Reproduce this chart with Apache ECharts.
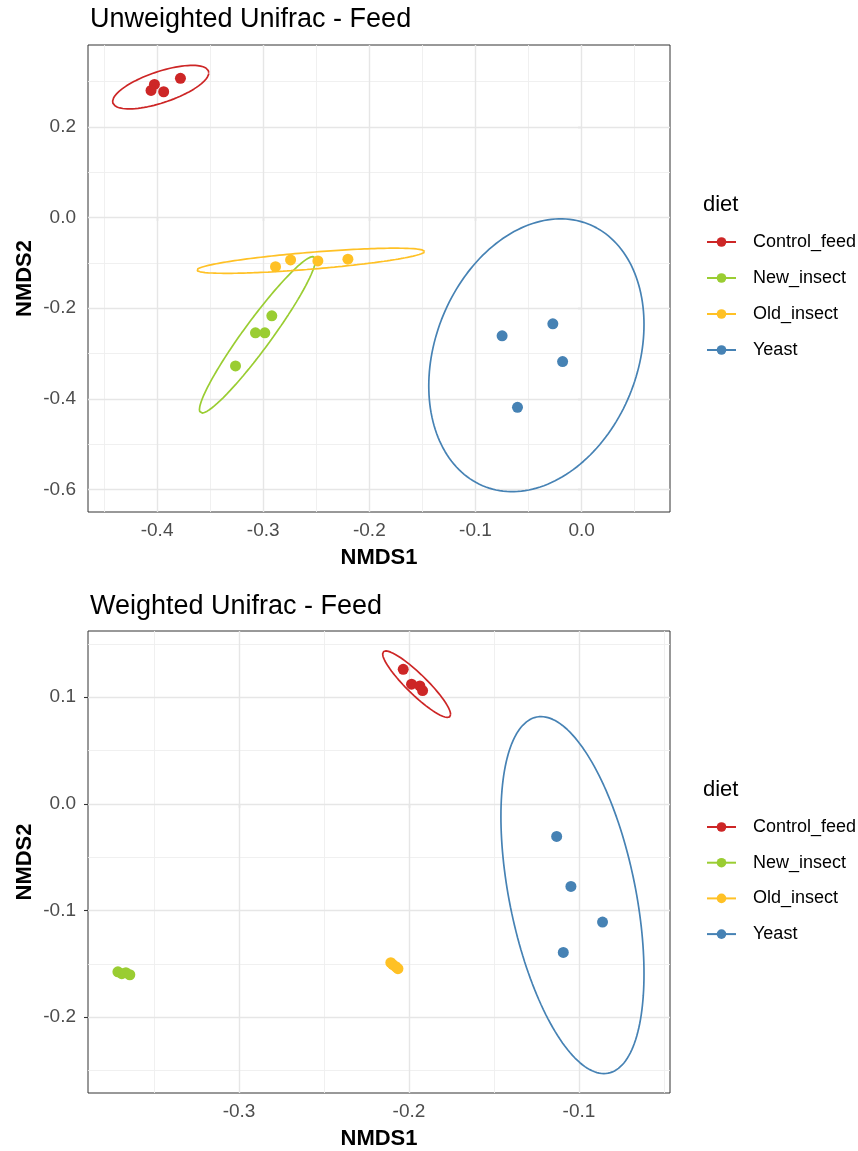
<!DOCTYPE html>
<html><head><meta charset="utf-8">
<script src="https://cdn.jsdelivr.net/npm/echarts@6/dist/echarts.min.js"></script>
<style>html,body{margin:0;padding:0;background:#fff}#c{width:858px;height:1151px}</style>
</head><body><div id="c"></div>
<script>
// ---------- data ----------
const groups = ['Control_feed', 'New_insect', 'Old_insect', 'Yeast'];
const groupColors = ['#CD2626', '#9ACD32', '#FFC125', '#4682B4'];

// Panel 1: Unweighted Unifrac
const unwControlX = [-0.4025, -0.4057, -0.3938, -0.3780];
const unwControlY = [0.2936, 0.2803, 0.2774, 0.3069];
const unwNewX = [-0.2919, -0.3073, -0.2985, -0.3261];
const unwNewY = [-0.2168, -0.2544, -0.2544, -0.3274];
const unwOldX = [-0.2884, -0.2742, -0.2485, -0.2202];
const unwOldY = [-0.1084, -0.0936, -0.0958, -0.0920];
const unwYeastX = [-0.0749, -0.0271, -0.0179, -0.0604];
const unwYeastY = [-0.2611, -0.2345, -0.3177, -0.4188];
// ellipse: [centerX, centerY, halfRangeX, halfRangeY, correlation]
const unwEllipses = [
  [-0.3966, 0.2876, 0.0453, 0.0480, 0.66],
  [-0.3054, -0.2588, 0.0547, 0.1726, 0.955],
  [-0.2552, -0.0954, 0.1074, 0.0277, 0.74],
  [-0.0426, -0.3038, 0.1014, 0.3009, 0.225]
];
const unwXTicks = [-0.4, -0.3, -0.2, -0.1, 0.0];
const unwXMinor = [-0.45, -0.35, -0.25, -0.15, -0.05, 0.05];
const unwYTicks = [-0.6, -0.4, -0.2, 0.0, 0.2];
const unwYMinor = [-0.5, -0.3, -0.1, 0.1, 0.3];
const unwXRange = [-0.4651, 0.0833];
const unwYRange = [-0.6496, 0.3805];

// Panel 2: Weighted Unifrac
const wControlX = [-0.2034, -0.1985, -0.1936, -0.1920];
const wControlY = [0.1262, 0.1122, 0.1106, 0.1062];
const wNewX = [-0.3713, -0.3690, -0.3666, -0.3643];
const wNewY = [-0.1575, -0.1593, -0.1584, -0.1603];
const wOldX = [-0.2107, -0.2095, -0.2077, -0.2065];
const wOldY = [-0.1490, -0.1509, -0.1528, -0.1546];
const wYeastX = [-0.1131, -0.1047, -0.0861, -0.1092];
const wYeastY = [-0.0306, -0.0775, -0.1109, -0.1394];
const wEllipses = [
  [-0.1955, 0.1122, 0.0200, 0.0312, -0.91],
  null,
  null,
  [-0.1038, -0.0856, 0.0421, 0.1674, -0.44]
];
const wXTicks = [-0.3, -0.2, -0.1];
const wXMinor = [-0.35, -0.25, -0.15, -0.05];
const wYTicks = [-0.2, -0.1, 0.0, 0.1];
const wYMinor = [-0.25, -0.15, -0.05, 0.05, 0.15];
const wXRange = [-0.3889, -0.0464];
const wYRange = [-0.2712, 0.1621];

// ---------- build ----------
const FONT = '"Liberation Sans", Arial, Helvetica, sans-serif';
const panels = [
  { title: 'Unweighted Unifrac - Feed', xs: [unwControlX, unwNewX, unwOldX, unwYeastX], ys: [unwControlY, unwNewY, unwOldY, unwYeastY],
    ell: unwEllipses, xt: unwXTicks, xm: unwXMinor, yt: unwYTicks, ym: unwYMinor, xr: unwXRange, yr: unwYRange,
    grid: { left: 88, top: 45, width: 582, height: 467 }, titleTop: 1, legendTitleTop: 189, legendTop: 228, legendGap: 18 },
  { title: 'Weighted Unifrac - Feed', xs: [wControlX, wNewX, wOldX, wYeastX], ys: [wControlY, wNewY, wOldY, wYeastY],
    ell: wEllipses, xt: wXTicks, xm: wXMinor, yt: wYTicks, ym: wYMinor, xr: wXRange, yr: wYRange,
    grid: { left: 88, top: 631, width: 582, height: 462 }, titleTop: 588, legendTitleTop: 774, legendTop: 813, legendGap: 17.7 }
];

function ellipsePoints(e) {
  if (!e) return [];
  const [cx, cy, rx, ry, rho] = e;
  const pts = [];
  const s = Math.sqrt(1 - rho * rho);
  for (let k = 0; k <= 180; k++) {
    const t = k / 180 * 2 * Math.PI;
    pts.push([cx + rx * Math.cos(t), cy + ry * (rho * Math.cos(t) + s * Math.sin(t))]);
  }
  return pts;
}
const fmt = v => (Math.round(v * 10) / 10).toFixed(1);

const grids = [], xAxes = [], yAxes = [], titles = [], legends = [];
const lineSeries = [], pointSeries = [], gridSeries = [];
panels.forEach((p, pi) => {
  grids.push(Object.assign({ show: true, borderColor: '#333333', borderWidth: 1, backgroundColor: 'transparent', containLabel: false }, p.grid));
  xAxes.push({
    type: 'value', gridIndex: pi, min: p.xr[0], max: p.xr[1],
    axisLine: { show: false },
    axisTick: { show: true, length: 4, customValues: p.xt, lineStyle: { color: '#333333', width: 1.1 } },
    axisLabel: { customValues: p.xt, formatter: fmt, fontSize: 19, color: '#4D4D4D', margin: 9, fontFamily: FONT },
    splitLine: { show: false },
    name: 'NMDS1', nameLocation: 'middle', nameGap: 35, nameMoveOverlap: false,
    nameTextStyle: { fontSize: 22, fontWeight: 'bold', color: '#000', fontFamily: FONT }
  });
  yAxes.push({
    type: 'value', gridIndex: pi, min: p.yr[0], max: p.yr[1],
    axisLine: { show: false },
    axisTick: { show: true, length: 4, customValues: p.yt, lineStyle: { color: '#333333', width: 1.1 } },
    axisLabel: { customValues: p.yt, formatter: fmt, fontSize: 19, color: '#4D4D4D', margin: 12, fontFamily: FONT },
    splitLine: { show: false },
    name: 'NMDS2', nameLocation: 'middle', nameGap: 52, nameMoveOverlap: false,
    nameTextStyle: { fontSize: 22, fontWeight: 'bold', color: '#000', fontFamily: FONT }
  });
  // grid lines through the axes' scales
  const ml = [];
  p.xm.forEach(v => ml.push({ xAxis: v, lineStyle: { color: '#EEEEEE', width: 0.9, type: 'solid' } }));
  p.ym.forEach(v => ml.push({ yAxis: v, lineStyle: { color: '#EEEEEE', width: 0.9, type: 'solid' } }));
  p.xt.forEach(v => ml.push({ xAxis: v, lineStyle: { color: '#E6E6E6', width: 1.4, type: 'solid' } }));
  p.yt.forEach(v => ml.push({ yAxis: v, lineStyle: { color: '#E6E6E6', width: 1.4, type: 'solid' } }));
  gridSeries.push({
    name: 'grid' + pi, type: 'scatter', data: [], xAxisIndex: pi, yAxisIndex: pi, silent: true, z: 1,
    markLine: { silent: true, z: 1, symbol: ['none', 'none'], label: { show: false }, emphasis: { disabled: true }, animation: false, data: ml }
  });
  groups.forEach((g, gi) => {
    lineSeries.push({
      name: g, type: 'line', xAxisIndex: pi, yAxisIndex: pi, data: ellipsePoints(p.ell[gi]),
      showSymbol: false, symbol: 'circle', symbolSize: 10, smooth: false, silent: true, z: 3,
      lineStyle: { color: groupColors[gi], width: 1.7 }, itemStyle: { color: groupColors[gi] }
    });
    pointSeries.push({
      name: g, type: 'scatter', xAxisIndex: pi, yAxisIndex: pi, z: 4,
      data: p.xs[gi].map((x, i) => [x, p.ys[gi][i]]),
      symbol: 'circle', symbolSize: 11, itemStyle: { color: groupColors[gi], opacity: 1 }
    });
  });
  titles.push({ text: p.title, left: 85, top: p.titleTop, textStyle: { fontSize: 27, fontWeight: 'normal', color: '#000', fontFamily: FONT } });
  titles.push({ text: 'diet', left: 698, top: p.legendTitleTop, textStyle: { fontSize: 22, fontWeight: 'normal', color: '#000', fontFamily: FONT } });
  legends.push({
    data: groups, orient: 'vertical', left: 701, top: p.legendTop, itemWidth: 29, itemHeight: 12, itemGap: p.legendGap,
    selectedMode: false, textStyle: { fontSize: 18, color: '#000', fontFamily: FONT, padding: [0, 0, 0, 12] }
  });
});

const chart = echarts.init(document.getElementById('c'), null, { renderer: 'canvas' });
chart.setOption({
  animation: false,
  backgroundColor: '#fff',
  textStyle: { fontFamily: FONT },
  title: titles,
  legend: legends,
  grid: grids,
  xAxis: xAxes,
  yAxis: yAxes,
  series: gridSeries.concat(lineSeries, pointSeries)
});
</script>
</body></html>
